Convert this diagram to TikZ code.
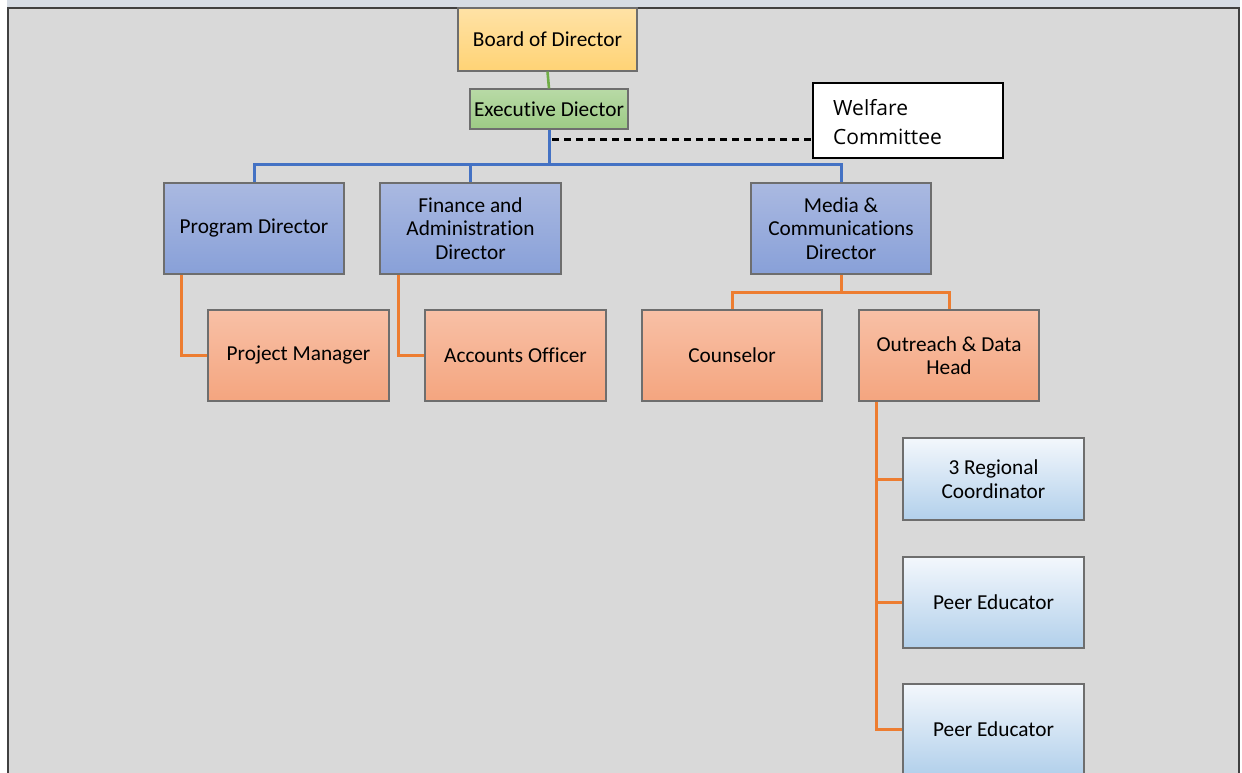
\documentclass[tikz,border=0pt]{standalone}
\usepackage{fontspec}
\setmainfont[Ligatures=NoCommon]{Carlito}
\newfontfamily\wfont{Open Sans}
\usetikzlibrary{calc}
\definecolor{bgray}{HTML}{D9D9D9}
\definecolor{topband}{HTML}{D6DCE4}
\definecolor{frame}{HTML}{404040}
\definecolor{boxline}{HTML}{6E6E6E}
\definecolor{lblue}{HTML}{4472C4}
\definecolor{lorange}{HTML}{ED7D31}
\definecolor{lgreen}{HTML}{70AD47}
\definecolor{yellowtop}{HTML}{FFE2A6}
\definecolor{yellowbot}{HTML}{FFD375}
\definecolor{greentop}{HTML}{B8DAA6}
\definecolor{greenbot}{HTML}{9DCA85}
\definecolor{bluetop}{HTML}{AAB9E1}
\definecolor{bluebot}{HTML}{88A0D8}
\definecolor{salmontop}{HTML}{F8C0A6}
\definecolor{salmonbot}{HTML}{F4A57F}
\definecolor{skytop}{HTML}{F3F7FC}
\definecolor{skybot}{HTML}{B2D0EB}
\tikzset{
  orgbox/.style={draw=boxline, line width=1.2pt, inner sep=0pt, align=center,
    font=\fontsize{21.3}{23.5}\selectfont, text=black},
  yellowbox/.style={orgbox, top color=yellowtop, bottom color=yellowbot},
  greenbox/.style={orgbox, top color=greentop, bottom color=greenbot},
  bluebox/.style={orgbox, top color=bluetop, bottom color=bluebot},
  salmonbox/.style={orgbox, top color=salmontop, bottom color=salmonbot},
  skybox/.style={orgbox, top color=skytop, bottom color=skybot},
  blueline/.style={draw=lblue, line width=3pt},
  orangeline/.style={draw=lorange, line width=3pt},
  greenline/.style={draw=lgreen, line width=2.6pt},
  dashline/.style={draw=black, line width=2.2pt, dash pattern=on 7pt off 5pt},
}
\begin{document}
\begin{tikzpicture}[x=1pt,y=-1pt]
\useasboundingbox (0,0) rectangle (1242,773);
\fill[white] (0,0) rectangle (1242,773);
\fill[topband] (7,0) rectangle (1240,8);
\fill[bgray] (8,8) rectangle (1239,773);
\draw[frame, line width=2.6pt] (8,775) -- (8,8) -- (1239,8) -- (1239,775);

% nodes
\node[yellowbox, minimum width=179, minimum height=63] (bd) at (547.5,39.5) {Board of Director};
\node[greenbox, minimum width=158, minimum height=40] (ed) at (549,109) {Execut\kern0pt ive Diector};
\node[draw=black, line width=1.2pt, fill=white, minimum width=190, minimum height=75, inner sep=0pt] (wc) at (908,120.5) {};
\node[anchor=west, align=left, inner sep=0pt, font=\wfont\fontsize{21}{29}\selectfont] (wct) at (833,122) {Welfare\\Committee};

\node[bluebox, minimum width=180, minimum height=91] (pd) at (254,228.5) {Program Director};
\node[bluebox, minimum width=181, minimum height=91] (fd) at (470.5,228.5) {Finance and\\Administrat\kern0pt ion\\Director};
\node[bluebox, minimum width=180, minimum height=91] (md) at (841,228.5) {Media \&\\Communicat\kern0pt ions\\Director};

\node[salmonbox, minimum width=181, minimum height=91] (pm) at (298.5,355.5) {Project Manager};
\node[salmonbox, minimum width=181, minimum height=91] (ao) at (515.5,355.5) {Accounts Officer};
\node[salmonbox, minimum width=180, minimum height=91] (cs) at (732,355.5) {Counselor};
\node[salmonbox, minimum width=180, minimum height=91] (od) at (949,355.5) {Outreach \& Data\\Head};

\node[skybox, minimum width=181, minimum height=82] (rc) at (993.5,479) {3 Regional\\Coordinator};
\node[skybox, minimum width=181, minimum height=91] (pe1) at (993.5,602.5) {Peer Educator};
\node[skybox, minimum width=181, minimum height=91] (pe2) at (993.5,729.5) {Peer Educator};

% connectors
\draw[greenline] (bd.south) -- (ed.north);
\draw[blueline] (ed.south) -- ($(ed.south)+(0,35)$) -| (pd.north);
\draw[blueline] ($(ed.south)+(0,35)$) -| (fd.north);
\draw[blueline] ($(ed.south)+(0,35)$) -| (md.north);
\draw[dashline] ($(ed.south)+(3,10)$) -- ($(wc.south west)+(0,-19)$);

\draw[orangeline] ($(pd.south west)+(18,0)$) |- (pm.west);
\draw[orangeline] ($(fd.south west)+(19,0)$) |- (ao.west);
\draw[orangeline] (md.south) -- ($(md.south)+(0,18)$) -| (cs.north);
\draw[orangeline] ($(md.south)+(0,18)$) -| (od.north);
\draw[orangeline] ($(od.south west)+(18,0)$) |- (pe2.west);
\draw[orangeline] ($(od.south west)+(18,0)$) |- (rc.west);
\draw[orangeline] ($(od.south west)+(18,0)$) |- (pe1.west);
\end{tikzpicture}
\end{document}
